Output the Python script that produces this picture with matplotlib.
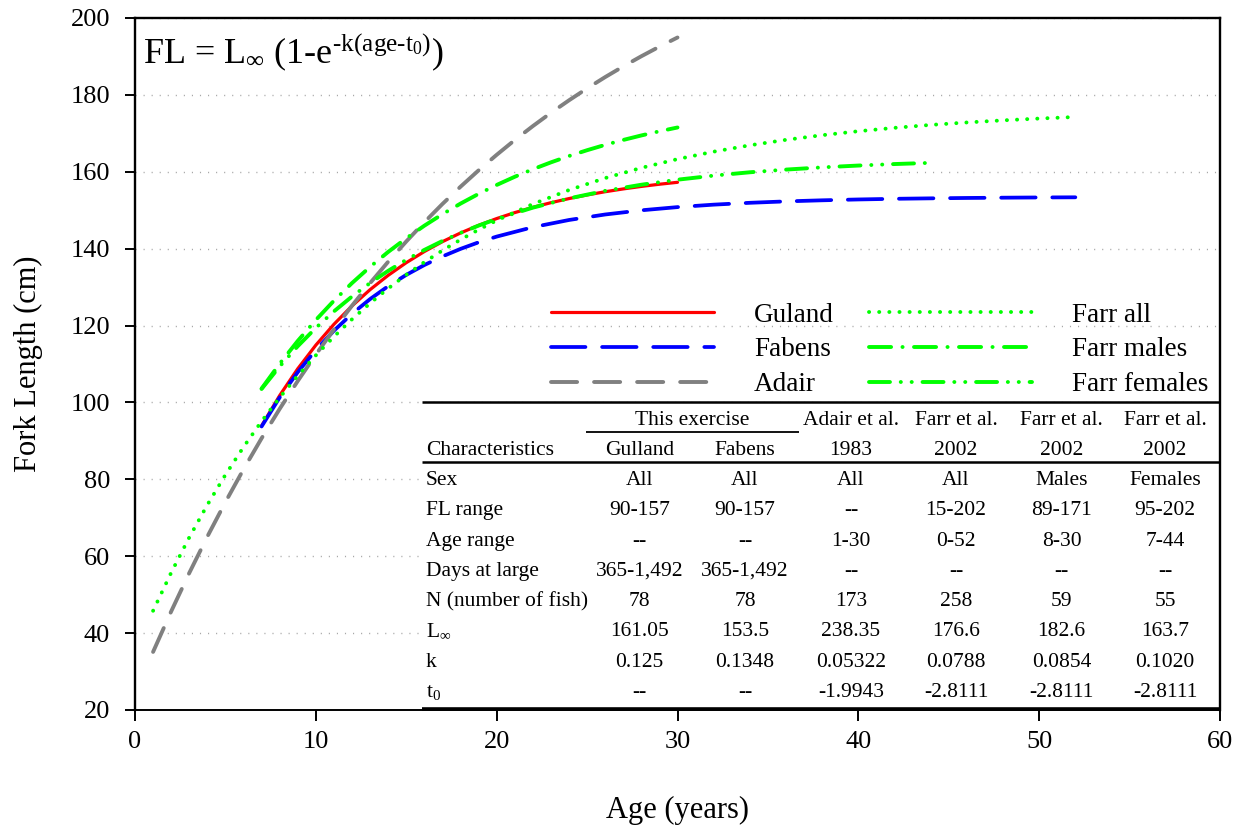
import matplotlib
matplotlib.use('Agg')
import matplotlib.pyplot as plt
from matplotlib.lines import Line2D
from matplotlib.patches import Rectangle

plt.rcParams['font.family'] = ['Liberation Serif', 'DejaVu Serif']
plt.rcParams['mathtext.fontset'] = 'custom'
plt.rcParams['mathtext.rm'] = 'Liberation Serif'
plt.rcParams['mathtext.it'] = 'Liberation Serif:italic'
plt.rcParams['mathtext.bf'] = 'Liberation Serif:bold'
plt.rcParams['lines.scale_dashes'] = False

# ---------------- data ----------------
gulland_age = list(range(7, 31))
gulland_fl = [93.92, 101.80, 108.77, 114.91, 120.33, 125.11, 129.34, 133.06, 136.35,
              139.25, 141.82, 144.08, 146.07, 147.83, 149.38, 150.75, 151.96, 153.03,
              153.97, 154.81, 155.54, 156.19, 156.76, 157.26]

fabens_age = list(range(7, 21)) + list(range(22, 53, 2))
fabens_fl = [93.75, 101.29, 107.87, 113.63, 118.66, 123.05, 126.89, 130.24, 133.18,
             135.74, 137.98, 139.94, 141.65, 143.14,
             145.59, 147.46, 148.89, 149.98, 150.81, 151.45, 151.93, 152.30, 152.58,
             152.80, 152.97, 153.09, 153.19, 153.26, 153.32, 153.36]

adair_age = list(range(1, 31))
adair_fl = [35.11, 45.64, 55.63, 65.10, 74.08, 82.60, 90.67, 98.32, 105.58, 112.46,
            118.98, 125.17, 131.04, 136.60, 141.87, 146.87, 151.62, 156.11, 160.37,
            164.41, 168.25, 171.88, 175.33, 178.59, 181.69, 184.63, 187.41, 190.05,
            192.55, 194.93]

farr_all_age = list(range(1, 21)) + list(range(22, 53, 2))
farr_all_fl = [45.81, 55.72, 64.88, 73.35, 81.17, 88.40, 95.09, 101.26, 106.97, 112.25,
               117.12, 121.63, 125.80, 129.65, 133.21, 136.49, 139.53, 142.34, 144.94,
               147.34, 151.60, 155.25, 158.36, 161.02, 163.29, 165.23, 166.89, 168.31,
               169.52, 170.55, 171.43, 172.19, 172.83, 173.38, 173.85, 174.25]

farr_m_age = list(range(7, 31))
farr_m_fl = [103.60, 110.07, 116.00, 121.45, 126.46, 131.05, 135.27, 139.15, 142.70,
             145.97, 148.97, 151.72, 154.25, 156.57, 158.70, 160.66, 162.45, 164.10,
             165.61, 167.00, 168.28, 169.45, 170.53, 171.52]

farr_f_age = list(range(7, 21)) + list(range(22, 45, 2))
farr_f_fl = [103.52, 109.36, 114.63, 119.39, 123.68, 127.56, 131.07, 134.23, 137.09,
             139.67, 142.00, 144.10, 146.00, 147.72,
             150.67, 153.07, 155.04, 156.63, 157.94, 159.00, 159.87, 160.57, 161.15,
             161.62, 162.01, 162.32]

series_labels = ['Guland', 'Fabens', 'Adair', 'Farr all', 'Farr males', 'Farr females']

x_ticks = [0, 10, 20, 30, 40, 50, 60]
y_ticks = [20, 40, 60, 80, 100, 120, 140, 160, 180, 200]

table_header1 = ['This exercise', 'Adair et al.', 'Farr et al.', 'Farr et al.', 'Farr et al.']
table_header2 = ['Characteristics', 'Gulland', 'Fabens', '1983', '2002', '2002', '2002']
table_row_labels = ['Sex', 'FL range', 'Age range', 'Days at large', 'N (number of fish)',
                    'L$_{\\infty}$', 'k', 't$_{0}$']
table_values = [
    ['All', 'All', 'All', 'All', 'Males', 'Females'],
    ['90-157', '90-157', '--', '15-202', '89-171', '95-202'],
    ['--', '--', '1-30', '0-52', '8-30', '7-44'],
    ['365-1,492', '365-1,492', '--', '--', '--', '--'],
    ['78', '78', '173', '258', '59', '55'],
    ['161.05', '153.5', '238.35', '176.6', '182.6', '163.7'],
    ['0.125', '0.1348', '0.05322', '0.0788', '0.0854', '0.1020'],
    ['--', '--', '-1.9943', '-2.8111', '-2.8111', '-2.8111'],
]

# ---------------- figure ----------------
W, H = 1243, 827
fig = plt.figure(figsize=(W / 100, H / 100), dpi=100)
ax = fig.add_axes([135 / W, (H - 710) / H, 1085 / W, 692 / H])
ax.set_xlim(0, 60)
ax.set_ylim(20, 200)

# pixel -> data helpers (for layout only)
def xd(px):
    return (px - 135) / (1085 / 60)

def yd(py):
    return 200 - (py - 18) / (692 / 180)

ax.set_axisbelow(True)
ax.yaxis.grid(True, color='#a8a8a8', linestyle=(0, (0.8, 5)), linewidth=1.0)
ax.set_xticks(x_ticks)
ax.set_yticks(y_ticks)
ax.tick_params(axis='both', direction='out', labelsize=19, width=1.4, colors='black')
ax.tick_params(axis='x', length=8, pad=7)
ax.tick_params(axis='y', length=7, pad=11)
for s in ['left', 'right', 'top']:
    ax.spines[s].set_linewidth(1.7)
ax.spines['bottom'].set_linewidth(1.4)

# white background behind the table
ax.add_patch(Rectangle((xd(422), 20), 60 - xd(422), 80, facecolor='white',
                       edgecolor='none', zorder=1))

kw = dict(dash_capstyle='round', solid_capstyle='round', zorder=3)
l1, = ax.plot(gulland_age, gulland_fl, color='#ff0000', lw=2.3, linestyle='-', **kw)
l2, = ax.plot(fabens_age, fabens_fl, color='#0000ff', lw=2.7, linestyle=(0, (24.8, 12)), **kw)
l3, = ax.plot(adair_age, adair_fl, color='#808080', lw=2.8, linestyle=(0, (18.8, 12.2)), **kw)
l4, = ax.plot(farr_all_age, farr_all_fl, color='#00ff00', lw=2.8, linestyle=(0, (0.1, 7.2)), **kw)
l5, = ax.plot(farr_m_age, farr_m_fl, color='#00ff00', lw=2.8,
              linestyle=(0, (15.9, 8.2, 0.1, 8.2)), **kw)
l6, = ax.plot(farr_f_age, farr_f_fl, color='#00ff00', lw=2.8,
              linestyle=(0, (15.1, 7.75, 0.1, 7.75, 0.1, 7.75)), **kw)

leg = ax.legend([l1, l2, l3, l4, l5, l6], series_labels, ncol=2, frameon=False,
                fontsize=19.5, handlelength=6.0, handletextpad=1.5, columnspacing=1.3,
                labelspacing=0.36, borderpad=0, borderaxespad=0,
                loc='center left', bbox_to_anchor=(551 / W, 1 - 350 / H),
                bbox_transform=fig.transFigure)
leg.set_zorder(5)

# formula (hyphens, not minus signs, as in the original)
ax.text(0.0075, (710 - 63) / 692,
        'FL = L$_{\\infty}$ (1-e$^{\\mathrm{\u2010k(age\u2010t_{0})}}$)',
        transform=ax.transAxes, fontsize=26, ha='left', va='baseline', zorder=6)

# axis labels
ax.set_xlabel('Age (years)', fontsize=22)
ax.xaxis.set_label_coords(0.5, (710 - 810) / 692)
ax.xaxis.label.set_va('center')
ax.set_ylabel('Fork Length (cm)', fontsize=22)
ax.yaxis.set_label_coords((28 - 135) / 1085, 0.5)
ax.yaxis.label.set_va('center')

# ---------------- table ----------------
tfs = 15.5
tx0 = xd(422)
col_x = [xd(p) for p in [639.5, 745, 851, 956, 1061.5, 1165]]
label_x = xd(426)
rule_kw = dict(color='black', clip_on=False, zorder=4, solid_capstyle='butt')
ax.plot([tx0, 60], [100, 100], lw=1.8, **rule_kw)
ax.plot([xd(586), xd(799)], [yd(432), yd(432)], lw=1.3, **rule_kw)
ax.plot([tx0, 60], [yd(462), yd(462)], lw=1.8, **rule_kw)
ax.plot([tx0, 60], [20.3, 20.3], lw=2.6, **rule_kw)

hb1 = yd(425)
ax.text((xd(586) + xd(799)) / 2, hb1, table_header1[0], fontsize=tfs, ha='center', va='baseline', zorder=6)
for cx, t in zip(col_x[2:], table_header1[1:]):
    ax.text(cx, hb1, t, fontsize=tfs, ha='center', va='baseline', zorder=6)
hb2 = yd(455)
ax.text(label_x, hb2, table_header2[0], fontsize=tfs, ha='left', va='baseline', zorder=6)
for cx, t in zip(col_x, table_header2[1:]):
    ax.text(cx, hb2, t, fontsize=tfs, ha='center', va='baseline', zorder=6)

for i, (lab, vals) in enumerate(zip(table_row_labels, table_values)):
    yb = yd(485 + 30.3 * i)
    ax.text(label_x, yb, lab, fontsize=tfs, ha='left', va='baseline', zorder=6)
    for cx, v in zip(col_x, vals):
        ax.text(cx, yb, v, fontsize=tfs, ha='center', va='baseline', zorder=6)

fig.savefig('out.png', dpi=100)
